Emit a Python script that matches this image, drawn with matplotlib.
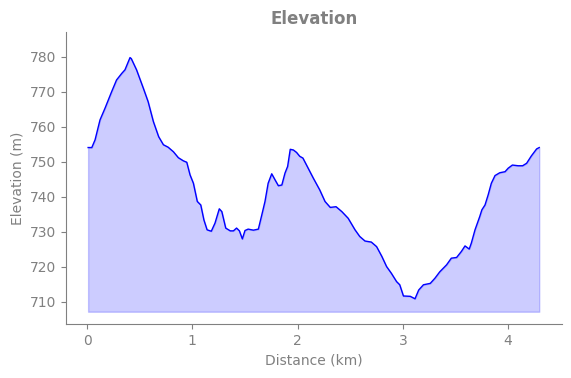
import matplotlib
matplotlib.use("Agg")
import matplotlib.pyplot as plt

distance_km = [
    0.01, 0.045, 0.076, 0.123, 0.17, 0.234, 0.28, 0.33, 0.36, 0.408, 0.42, 0.47,
    0.535, 0.58, 0.63, 0.68, 0.725, 0.77, 0.82, 0.867, 0.915, 0.947, 0.978, 1.01,
    1.047, 1.08, 1.11, 1.14, 1.18, 1.215, 1.256, 1.28, 1.317, 1.36, 1.39, 1.42,
    1.447, 1.475, 1.5, 1.53, 1.58, 1.627, 1.66, 1.69, 1.72, 1.754, 1.785, 1.817,
    1.85, 1.88, 1.905, 1.93, 1.96, 1.99, 2.02, 2.05, 2.10, 2.15, 2.21, 2.26,
    2.31, 2.365, 2.42, 2.48, 2.545, 2.59, 2.64, 2.70, 2.75, 2.80, 2.845, 2.89,
    2.94, 2.97, 3.005, 3.07, 3.115, 3.15, 3.195, 3.26, 3.305, 3.35, 3.415, 3.46,
    3.51, 3.555, 3.59, 3.63, 3.65, 3.685, 3.73, 3.75, 3.78, 3.81, 3.84, 3.875,
    3.92, 3.97, 4.0, 4.04, 4.095, 4.137, 4.175, 4.22, 4.27, 4.295,
]
elevation_m = [
    754.1, 754.1, 756.3, 762.0, 765.3, 770.1, 773.4, 775.3, 776.3, 779.8, 779.5, 776.3,
    771.0, 767.2, 761.5, 757.2, 754.9, 754.2, 752.9, 751.2, 750.3, 749.9, 746.3, 743.9,
    738.7, 737.7, 733.4, 730.6, 730.2, 732.5, 736.6, 735.8, 731.1, 730.3, 730.3, 731.1,
    730.3, 728.0, 730.4, 730.8, 730.5, 730.8, 734.9, 738.7, 743.9, 746.6, 744.9, 743.2,
    743.4, 746.8, 748.7, 753.6, 753.4, 752.7, 751.6, 751.1, 748.2, 745.3, 742.0, 738.7,
    737.0, 737.2, 735.8, 733.9, 730.6, 728.7, 727.4, 727.1, 725.8, 723.0, 720.1, 718.2,
    715.8, 714.9, 711.7, 711.6, 710.9, 713.4, 714.9, 715.3, 716.8, 718.6, 720.6, 722.5,
    722.7, 724.4, 726.0, 725.1, 726.8, 730.6, 734.4, 736.3, 737.7, 740.6, 743.9, 746.1,
    746.9, 747.2, 748.2, 749.1, 748.9, 748.9, 749.6, 751.7, 753.7, 754.1,
]
fill_base_m = 707.2

grey = "#808080"
plt.rcParams["font.family"] = "DejaVu Sans"

fig = plt.figure(figsize=(5.71, 3.78), dpi=100)
ax = fig.add_axes([0.1156, 0.1429, 0.8684, 0.7724])

ax.fill_between(distance_km, elevation_m, fill_base_m, color="blue", alpha=0.2)
ax.plot(distance_km, elevation_m, color="blue", linewidth=1.0)

ax.set_xlim(-0.2, 4.51)
ax.set_ylim(703.7, 787.1)
ax.set_yticks([710, 720, 730, 740, 750, 760, 770, 780])
ax.set_xticks([0, 1, 2, 3, 4])

ax.set_title("Elevation", fontsize=12, fontweight="bold", color=grey)
ax.set_xlabel("Distance (km)", fontsize=10, color=grey)
ax.set_ylabel("Elevation (m)", fontsize=10, color=grey)

for side in ["top", "right"]:
    ax.spines[side].set_visible(False)
for side in ["left", "bottom"]:
    ax.spines[side].set_color(grey)
ax.tick_params(colors=grey, labelsize=10)

fig.savefig("out.png", dpi=100)
